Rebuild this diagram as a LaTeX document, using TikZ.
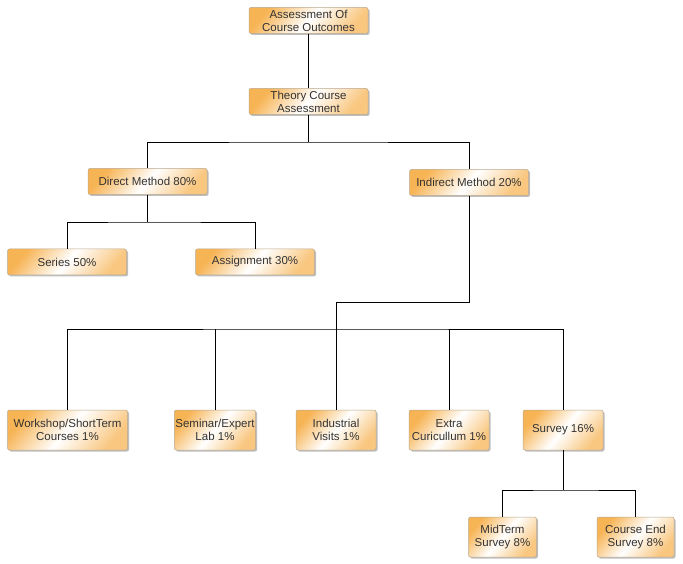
\documentclass[tikz,border=0pt]{standalone}
\usepackage{fontspec}
\newfontfamily\boxfont{Liberation Sans}
\usetikzlibrary{shadows}
\definecolor{boxorange}{HTML}{F7B455}
\definecolor{boxedge}{HTML}{B8A890}
\definecolor{boxtext}{HTML}{333333}
\tikzset{
  box/.style={draw=boxedge, line width=0.5pt, rounded corners=2pt,
    top color=boxorange, bottom color=boxorange!75, middle color=white, shading angle=50,
    drop shadow={shadow xshift=1.5pt, shadow yshift=-1.5pt, opacity=0.25, fill=black},
    align=center, inner sep=1pt, text=boxtext,
    font=\boxfont\fontsize{11.5}{13}\selectfont},
  wide/.style={box, minimum width=119pt, minimum height=26pt},
  tall/.style={box, minimum height=40pt},
  conn/.style={draw=black, line width=0.9pt}
}
\begin{document}
\begin{tikzpicture}[x=1pt, y=-1pt]
\useasboundingbox (0,0) rectangle (683,564);
\node[wide] (root) at (308.5,20.5) {Assessment Of\\Course Outcomes};
\node[wide] (theory) at (308.5,101.5) {Theory Course\\Assessment};
\node[wide] (direct) at (147.5,181.5) {Direct Method 80\%};
\node[wide] (indirect) at (469,182.5) {Indirect Method 20\%};
\node[wide] (series) at (67,262) {Series 50\%};
\node[wide] (assign) at (255,262) {Assignment 30\%};
\node[tall, minimum width=120pt] (workshop) at (67.5,430) {Workshop/ShortTerm\\Courses 1\%};
\node[tall, minimum width=80pt] (seminar) at (215,430) {Seminar/Expert\\Lab 1\%};
\node[tall, minimum width=80pt] (industrial) at (336,430) {Industrial\\Visits 1\%};
\node[tall, minimum width=80pt] (extra) at (449,430) {Extra\\Curicullum 1\%};
\node[tall, minimum width=80pt] (survey) at (563,430) {Survey 16\%};
\node[tall, minimum width=68pt] (midterm) at (502.5,537) {MidTerm\\Survey 8\%};
\node[tall, minimum width=77pt] (courseend) at (635.5,537) {Course End\\Survey 8\%};

\coordinate (b1) at (308.5,142);
\coordinate (b2) at (147.5,222);
\coordinate (b3) at (336,302);
\coordinate (b4) at (336,329);
\coordinate (b5) at (563,490);

\draw[conn] (root.south) -- (theory.north);
\draw[conn] (theory.south) -- (b1);
\draw[conn] (direct.north) |- (b1) -| (indirect.north);
\draw[conn] (direct.south) -- (b2);
\draw[conn] (series.north) |- (b2) -| (assign.north);
\draw[conn] (indirect.south) |- (b3) -- (industrial.north);
\draw[conn] (workshop.north) |- (b4) -| (survey.north);
\draw[conn] (seminar.north) -- (seminar.north |- b4);
\draw[conn] (extra.north) -- (extra.north |- b4);
\draw[conn] (survey.south) -- (b5);
\draw[conn] (midterm.north) |- (b5) -| (courseend.north);
\end{tikzpicture}
\end{document}
